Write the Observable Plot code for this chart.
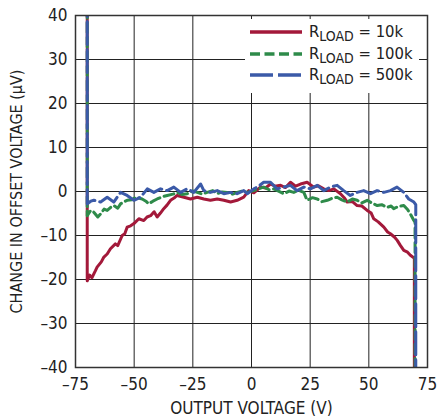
<!DOCTYPE html>
<html>
<head>
<meta charset="utf-8">
<script src="https://cdn.jsdelivr.net/npm/d3@7"></script>
<script src="https://cdn.jsdelivr.net/npm/@observablehq/plot@0.6"></script>
<style>
  body { margin: 0; background: #fff; }
  #wrap { position: relative; width: 439px; height: 419px; font-family: "Liberation Sans Narrow", "Arial Narrow", "DejaVu Sans Condensed", sans-serif; color: #222; }
  #legend { position: absolute; left: 245px; top: 19px; width: 174px; height: 74px; background: #fff; }
  .row { position: absolute; left: 0; height: 22px; display: flex; align-items: center; }
  .row svg { margin-left: 5px; }
  .row span { margin-left: 7px; font-size: 16.5px; line-height: 16px; white-space: nowrap; }
  .row sub { font-size: 14px; vertical-align: -4px; line-height: 0; }
</style>
</head>
<body>
<div id="wrap"><div id="legend"></div></div>
<script>
// ---- data ----
const seriesNames = ["10k", "100k", "500k"];
const seriesColors = ["#a3193a", "#2e8b4a", "#3b5aa8"];
const seriesDash = [null, "10,4.5", "23,5"];

const xTicks = [-75, -50, -25, 0, 25, 50, 75];
const yTicks = [-40, -30, -20, -10, 0, 10, 20, 30, 40];
const xLabel = "OUTPUT VOLTAGE (V)";
const yLabel = "CHANGE IN OFFSET VOLTAGE (\u03bcV)";

const vout10k = [-70, -70, -69, -68, -66.5, -65.8, -64, -62.9, -61.5, -60.1, -58, -57, -55.1, -54, -53, -51.5, -50.1, -48, -45.9, -44.5, -43, -41.5, -40.2, -38.8, -37.4, -36, -34.5, -33, -31.7, -28.8, -26, -23.1, -20.3, -17.5, -14.6, -11.8, -8.9, -6.1, -3.3, -1.2, 1, 3.8, 6, 8.1, 10, 12.4, 14.5, 16.6, 18.8, 20.9, 23.7, 26.5, 28.5, 30.8, 33, 35.1, 37.9, 39.5, 40.8, 43, 45, 47, 49.3, 51, 52.1, 54, 56.4, 58, 59.2, 61, 62.1, 63.5, 64.9, 66.5, 67.7, 69, 69.4, 69.4];
const dvos10k = [45, -20.3, -19, -19.6, -18, -17.2, -16, -14.9, -14.2, -13, -11.9, -12.3, -10, -9.6, -8.1, -7.8, -7.3, -6.2, -6.6, -5.8, -5.5, -4.6, -5.8, -4.9, -3.9, -3.1, -2, -1.5, -0.9, -1.3, -1.7, -1.3, -1.7, -2, -1.7, -2, -2.4, -2, -1.3, 0.2, -0.3, 1, 0.8, 1.7, 1.2, 1.4, 0.9, 2.1, 1.2, 1.7, 2.1, 1, 1.3, 0.6, 0.2, 0.6, -0.5, -1.4, -2.4, -2.3, -3.2, -3.3, -4.3, -4.9, -6.2, -6.9, -8.1, -9.2, -9.6, -10.4, -11.1, -12.3, -13.4, -13.8, -14.5, -15, -15.2, -45];

const vout100k = [-70, -70, -68.5, -67.2, -65.5, -64.3, -62.8, -61.5, -60, -58.7, -57, -55.8, -54.5, -53, -51, -49.4, -46.6, -45, -43.8, -42, -40.2, -38, -35.9, -33.5, -31.7, -29.5, -27.4, -25, -23.1, -21, -18.9, -16.5, -14.6, -12.5, -10.4, -8, -6.1, -4, -1.8, 1, 3, 5.2, 7.5, 9.5, 11.5, 13.8, 16, 18, 20, 22.3, 23.7, 26, 28, 30, 32.3, 34.5, 36.5, 38.5, 40.8, 43, 45, 47, 49.3, 51.5, 53.6, 55.5, 57.8, 59.5, 60.6, 62.5, 64.9, 66.5, 67.7, 69.2, 69.7, 69.7];
const dvos100k = [45, -5.5, -4.3, -4.7, -5.8, -5.1, -4, -4.3, -3.6, -3.2, -3.8, -2.8, -2.4, -2, -1.9, -1.3, -1.7, -2.2, -2.8, -2.2, -1.7, -1.2, -0.9, -0.6, -0.2, -0.7, -0.5, 0.1, -0.2, -0.6, -0.2, 0.2, -0.5, -0.1, -0.2, -0.6, -0.2, 0.1, -0.2, 0.2, 0.6, 1, 0.4, 0.6, 0.1, -0.5, 0.1, -0.2, 0.3, -0.2, -2, -1.4, -1.7, -2.3, -2, -1.5, -1.3, -1.9, -2.4, -1.7, -2, -2.6, -2, -2.7, -3.2, -3, -3.6, -3.3, -3.9, -3.4, -3.2, -4.1, -5.1, -6.6, -7, -45];

const vout500k = [-70, -70, -68.5, -67.2, -64.3, -61.5, -58.7, -55.8, -53, -50.1, -47.3, -44.4, -41.6, -38.8, -35.9, -33.1, -30.2, -27.4, -24.6, -21.7, -20.3, -17.5, -14.6, -11.8, -8.9, -6.1, -3.3, -1.8, 1, 3, 5.2, 8.1, 10.9, 13.8, 16.6, 19.4, 22.3, 25.1, 28, 30.8, 33.6, 36.5, 39.3, 42.1, 45, 47.8, 50.7, 53.5, 56.4, 59.2, 62, 64.9, 67, 69.2, 70, 70];
const dvos500k = [45, -2.8, -2.2, -2, -2.4, -1.3, -2.4, -0.2, -0.9, -2, -1.3, 0.6, -0.2, 0.6, 0.2, 1, -0.2, 0.6, -0.2, 1.7, 0.2, -0.2, 0.2, -0.5, -0.2, -0.5, 0.2, -0.5, 0.6, 1.2, 2.1, 2.1, 0.6, 1, 1.4, 0.2, 1, 0.6, 1.4, 0.2, 1, 1.4, 0.2, -0.9, -0.2, 0.2, -0.5, 0.2, -0.2, 0.2, 1, -0.2, -1.7, -2.4, -3, -45];

const xs = [vout10k, vout100k, vout500k];
const ys = [dvos10k, dvos100k, dvos500k];

const fontFamily = '"Liberation Sans Narrow", "Arial Narrow", "DejaVu Sans Condensed", sans-serif';
const minus = d => d < 0 ? "\u2013" + Math.abs(d) : String(d);

const lineMarks = seriesNames.map((name, i) => Plot.line(
  xs[i].map((v, j) => ({v, d: ys[i][j]})),
  {x: "v", y: "d", stroke: seriesColors[i], strokeWidth: 3, strokeDasharray: seriesDash[i] || undefined, clip: true, curve: "linear", strokeLinejoin: "round"}
));

const chart = Plot.plot({
  width: 439,
  height: 419,
  marginLeft: 75,
  marginTop: 15,
  marginRight: 12,
  marginBottom: 52,
  style: {fontFamily, fontSize: "17px", color: "#222", background: "#fff"},
  x: {domain: [-75, 75]},
  y: {domain: [-40, 40]},
  marks: [
    Plot.gridX(xTicks, {stroke: "#222", strokeOpacity: 1, strokeWidth: 1}),
    Plot.gridY(yTicks, {stroke: "#222", strokeOpacity: 1, strokeWidth: 1}),
    Plot.axisX(xTicks, {tickSize: 0, tickPadding: 10, tickFormat: minus, label: null, fontSize: 17}),
    Plot.axisY(yTicks, {tickSize: 0, tickPadding: 8, tickFormat: minus, label: null, fontSize: 17}),
    Plot.text([xLabel], {frameAnchor: "bottom", dy: 46, fontSize: 17, fill: "#222"}),
    Plot.text([yLabel], {frameAnchor: "left", textAnchor: "middle", dx: -59, rotate: -90, fontSize: 16, fill: "#222"}),
    ...lineMarks,
    Plot.frame({stroke: "#333", strokeWidth: 1.5})
  ]
});
document.getElementById("wrap").prepend(chart);

// legend
const legend = d3.select("#legend");
seriesNames.forEach((name, i) => {
  const row = legend.append("div").attr("class", "row").style("top", (2 + i * 21.5) + "px");
  const svg = row.append("svg").attr("width", 52).attr("height", 8);
  svg.append("line").attr("x1", 0).attr("x2", 52).attr("y1", 4).attr("y2", 4)
    .attr("stroke", seriesColors[i]).attr("stroke-width", 3.5)
    .attr("stroke-dasharray", seriesDash[i]);
  row.append("span").html("R<sub>LOAD</sub> = " + name);
});
</script>
</body>
</html>
